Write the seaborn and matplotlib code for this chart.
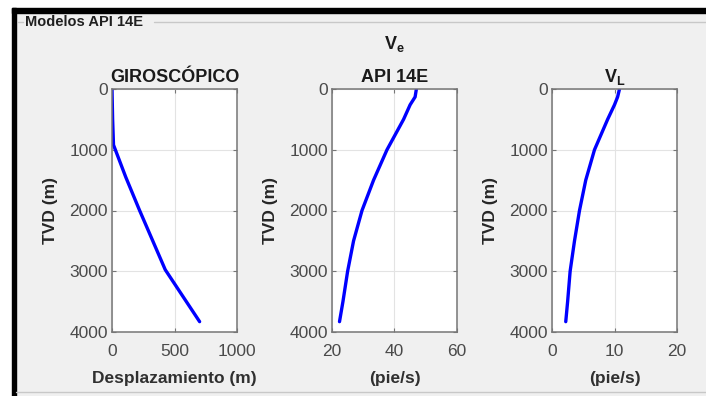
import matplotlib
matplotlib.use('Agg')
import matplotlib.pyplot as plt
import seaborn as sns
from matplotlib.patches import Rectangle
from matplotlib.lines import Line2D

# Data
tvd_giro = [0, 500, 920, 1450, 2000, 2975, 3830]
desp_giro = [0, 5, 12, 110, 221, 426, 701]

tvd_vel = [0, 130, 260, 500, 1000, 1500, 2000, 2500, 3000, 3500, 3830]
ve_api = [47.0, 46.6, 45.0, 42.9, 37.6, 33.3, 29.6, 26.9, 25.0, 23.5, 22.4]
vl_api = [10.8, 10.5, 10.0, 8.9, 6.8, 5.4, 4.4, 3.6, 2.9, 2.5, 2.2]

panels = [
    ('GIROSCÓPICO', desp_giro, tvd_giro, (0, 1000), [0, 500, 1000], 'Desplazamiento (m)'),
    ('API 14E', ve_api, tvd_vel, (20, 60), [20, 40, 60], '(pie/s)'),
    ('$\\mathbf{V_L}$', vl_api, tvd_vel, (0, 20), [0, 10, 20], '(pie/s)'),
]

sns.set_style('white')
plt.rcParams['font.family'] = ['Liberation Sans', 'DejaVu Sans']
plt.rcParams['mathtext.fontset'] = 'custom'
plt.rcParams['mathtext.bf'] = 'Liberation Sans:bold'
plt.rcParams['mathtext.rm'] = 'Liberation Sans'

W, H = 706, 396
fig = plt.figure(figsize=(W / 100, H / 100), dpi=100, facecolor='white')

def px(x0, y0, x1, y1):
    # pixel box (top-down) -> figure fraction rect
    return (x0 / W, 1 - y1 / H, (x1 - x0) / W, (y1 - y0) / H)

def add_rect(box, color, z):
    r = px(*box)
    fig.patches.append(Rectangle(r[:2], r[2], r[3], transform=fig.transFigure,
                                 color=color, zorder=z))

# window background and black frame
add_rect((16, 13, 706, 396), '#f0f0f0', -10)
add_rect((12, 8, 706, 13), 'black', -9)
add_rect((12, 8, 16, 396), 'black', -9)

# group box
fig.add_artist(Line2D([154 / W, 1], [1 - 22 / H] * 2, color='#c8c8c8', lw=1))
fig.add_artist(Line2D([18 / W, 23 / W], [1 - 22 / H] * 2, color='#c8c8c8', lw=1))
fig.add_artist(Line2D([16 / W, 1], [1 - 392 / H] * 2, color='#c8c8c8', lw=1))
fig.text(25 / W, 1 - 22 / H, 'Modelos API 14E', fontsize=10.5, fontweight='bold',
         va='center', ha='left', color='#202020')

boxes = [(112, 89, 237, 332), (332, 89, 457, 332), (552, 89, 677, 332)]

for (title, xv, yv, xlim, xt, xlabel), box in zip(panels, boxes):
    ax = fig.add_axes(px(*box))
    sns.lineplot(x=xv, y=yv, sort=False, estimator=None, color='#0000ff',
                 linewidth=2.4, ax=ax)
    ax.set_xlim(*xlim)
    ax.set_ylim(4000, 0)
    ax.set_xticks(xt)
    ax.set_yticks([0, 1000, 2000, 3000, 4000])
    ax.grid(True, color='#e3e3e3', linewidth=0.8)
    ax.set_axisbelow(True)
    for s in ax.spines.values():
        s.set_color('#767676')
        s.set_linewidth(1.1)
    ax.tick_params(direction='in', length=3, width=0.8, color='#767676',
                   labelsize=12.5, labelcolor='#4a4a4a', top=True, right=True,
                   bottom=True, left=True)
    ax.tick_params(axis='x', pad=9)
    ax.tick_params(axis='y', pad=3)
    ax.set_ylabel('TVD (m)', fontsize=12.5, fontweight='bold', color='#262626', labelpad=8)
    ax.set_xlabel(xlabel, fontsize=12.5, fontweight='bold', color='#303030', labelpad=8)
    ax.set_title(title, fontsize=13, fontweight='bold', color='#1a1a1a', pad=5)
    if title == 'API 14E':
        ax.text(0.5, 1.145, '$\\mathbf{V_e}$', transform=ax.transAxes, ha='center',
                va='bottom', fontsize=13, color='#1a1a1a')

fig.savefig('out.png', dpi=100, facecolor=fig.get_facecolor())
